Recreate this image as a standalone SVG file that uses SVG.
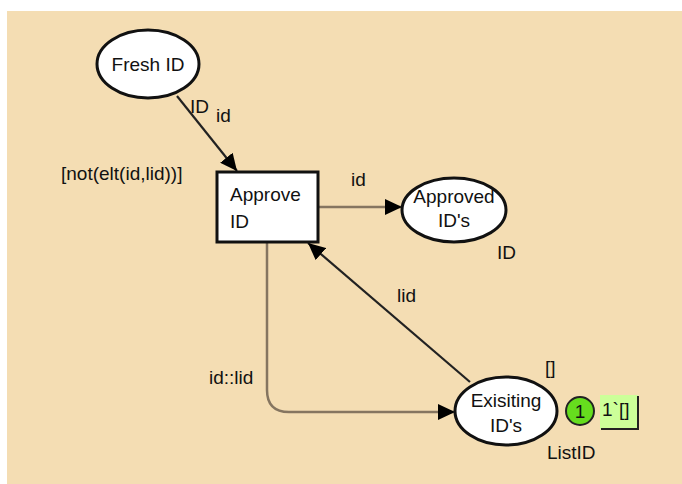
<svg xmlns="http://www.w3.org/2000/svg" width="682" height="484" viewBox="0 0 682 484">
<defs>
<style>
text{font-family:"Liberation Sans",Arial,sans-serif;font-size:19px;fill:#111}
.place{fill:#fff;stroke:#111;stroke-width:3}
.trans{fill:#fff;stroke:#111;stroke-width:3}
.arcd{fill:none;stroke:#222;stroke-width:2.2}
.arcg{fill:none;stroke:#857560;stroke-width:2.5}
</style>
<marker id="ah" markerUnits="userSpaceOnUse" markerWidth="18" markerHeight="16" refX="17" refY="8" orient="auto">
<path d="M0,0 L17,8 L0,16 z" fill="#000"/>
</marker>
</defs>
<rect x="7" y="11" width="675" height="473" fill="#F4DDB3"/>
<g id="connectors">
<line class="arcd" x1="177" y1="96" x2="237" y2="171" marker-end="url(#ah)"/>
<line class="arcg" x1="318" y1="207" x2="402" y2="207" marker-end="url(#ah)"/>
<line class="arcd" x1="470" y1="382" x2="308" y2="243" marker-end="url(#ah)"/>
<path class="arcg" d="M267,242 L267,390 Q267,412 289,412 L455,412" marker-end="url(#ah)"/>
<text x="190" y="113">ID</text>
<text x="216" y="122">id</text>
<text x="351" y="186">id</text>
<text x="397" y="302">lid</text>
<text x="209" y="384">id::lid</text>
</g>
<g id="fresh-id">
<ellipse class="place" cx="148" cy="64" rx="51" ry="34"/>
<text x="148" y="71" text-anchor="middle">Fresh ID</text>
</g>
<g id="approve-id">
<rect class="trans" x="217" y="172" width="101" height="70"/>
<text x="230" y="201">Approve</text>
<text x="230" y="228">ID</text>
<text x="61" y="180">[not(elt(id,lid))]</text>
</g>
<g id="approved-ids">
<ellipse class="place" cx="454" cy="210" rx="52" ry="32"/>
<text x="454" y="203" text-anchor="middle">Approved</text>
<text x="454" y="227" text-anchor="middle">ID's</text>
<text x="497" y="259">ID</text>
</g>
<g id="existing-ids">
<ellipse class="place" cx="506" cy="411" rx="51" ry="34"/>
<text x="506" y="407" text-anchor="middle">Exisiting</text>
<text x="506" y="432" text-anchor="middle">ID's</text>
<text x="545" y="374" font-size="16">[]</text>
<text x="547" y="459">ListID</text>
<circle cx="580" cy="411" r="14" fill="#66DD1E" stroke="#222" stroke-width="2"/>
<text x="580" y="418" text-anchor="middle">1</text>
<rect x="600" y="395" width="38" height="34" fill="#CCFF99"/>
<polyline points="601,429 638,429 638,396" fill="none" stroke="#222" stroke-width="2"/>
<text x="602" y="416">1`[]</text>
</g>
</svg>
